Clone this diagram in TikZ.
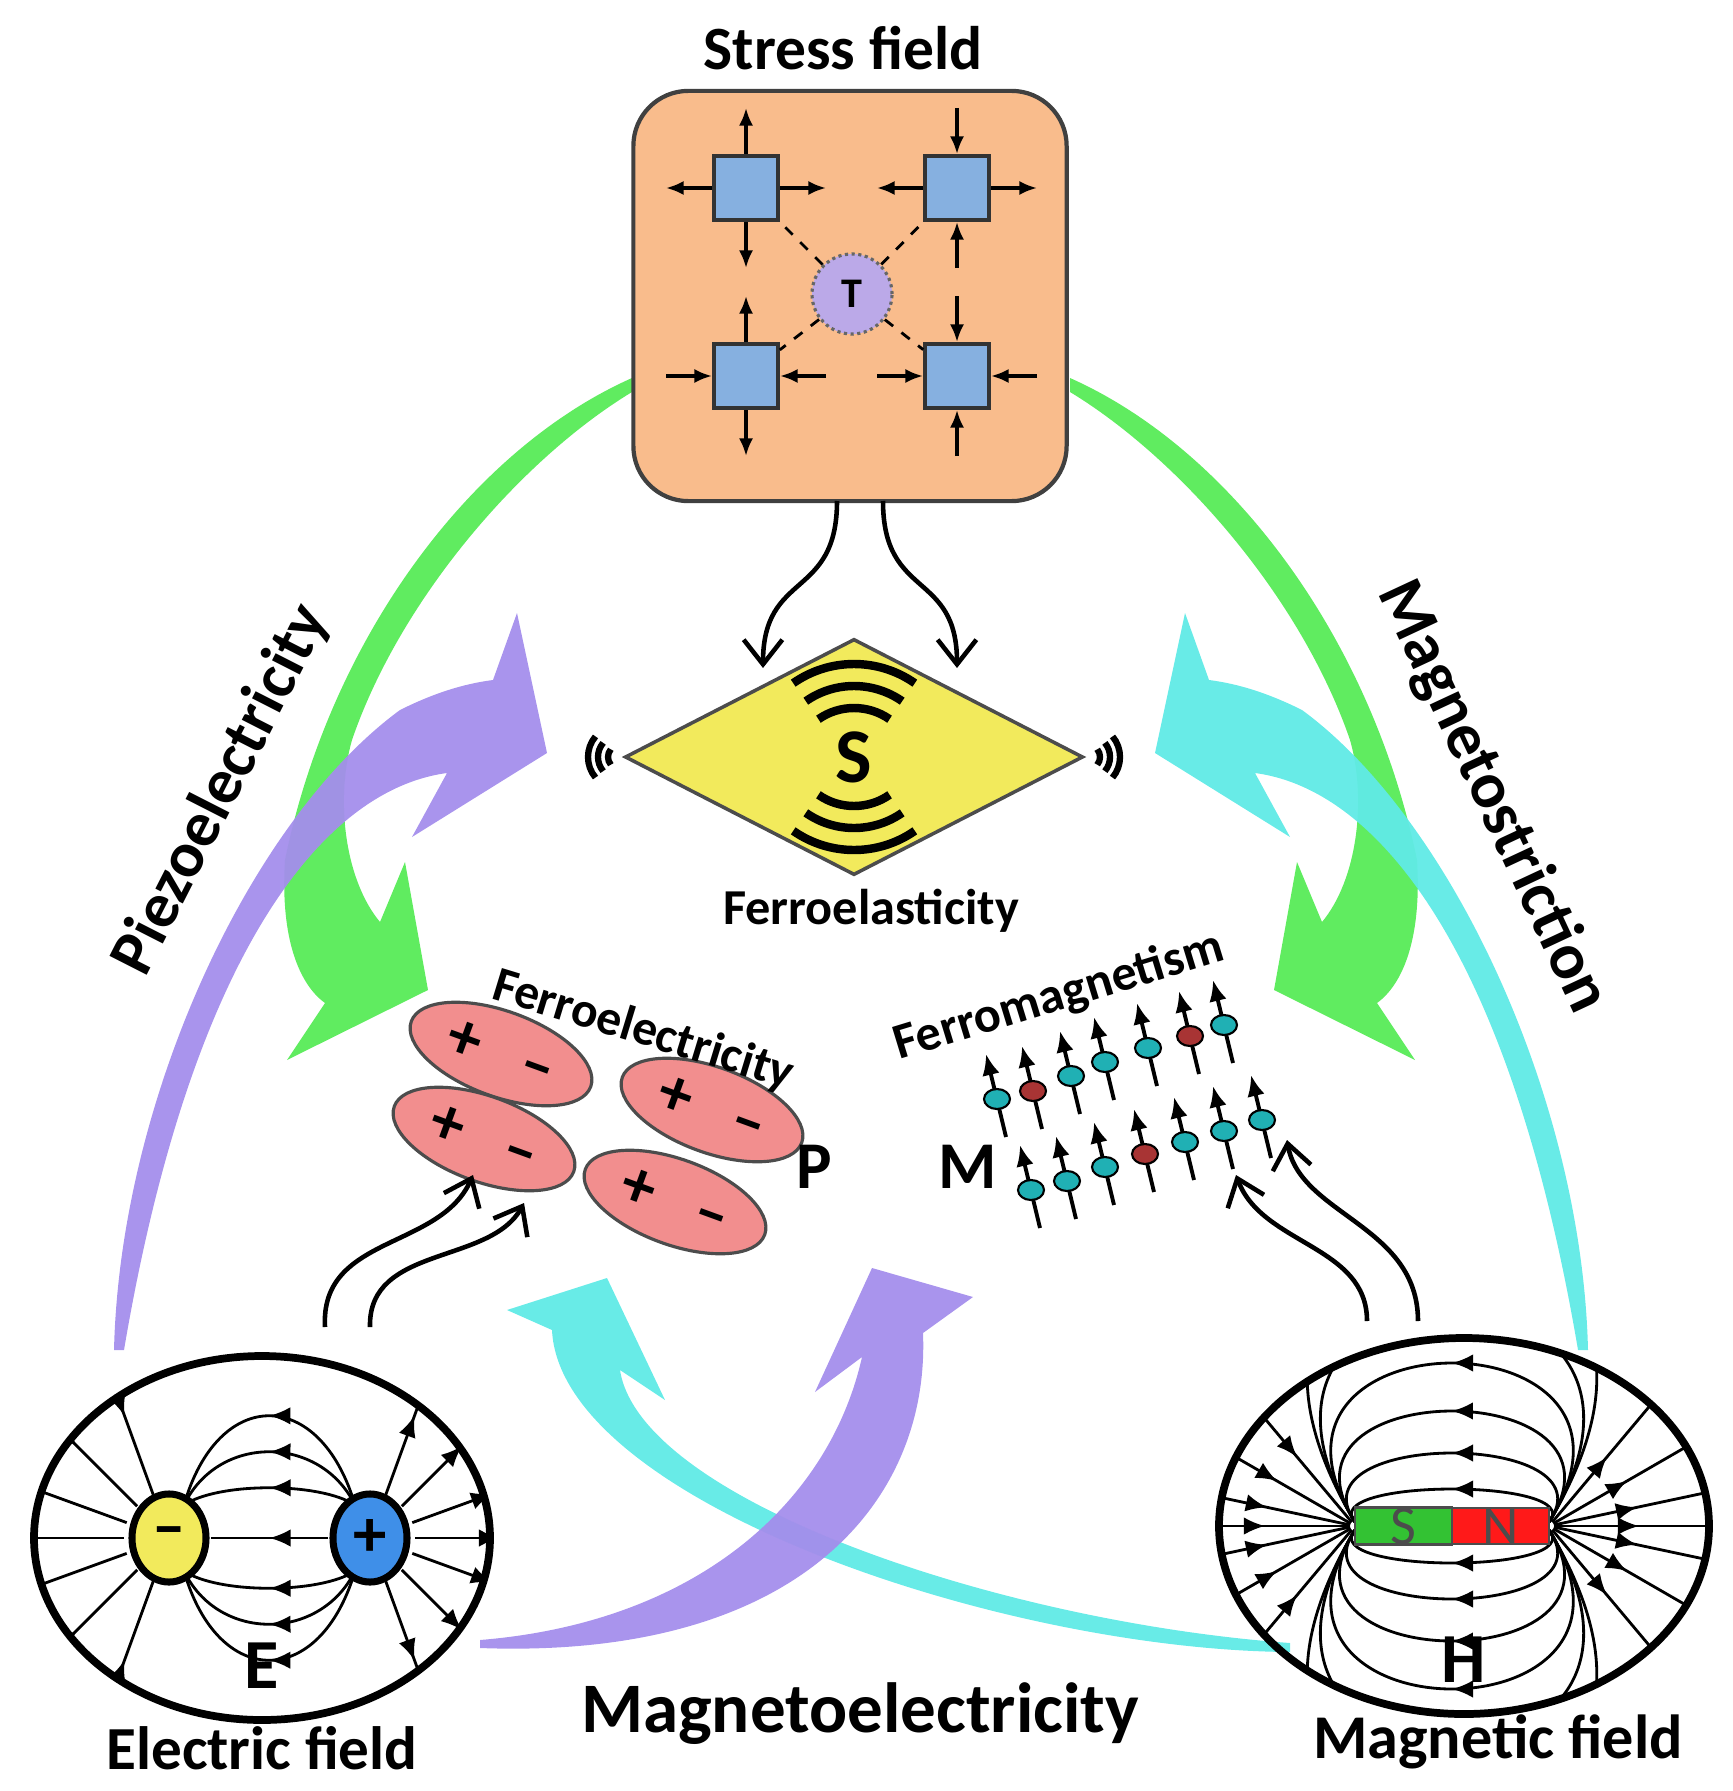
\documentclass[tikz,border=0pt]{standalone}
\usepackage{fontspec}
\setmainfont{Carlito}
\usetikzlibrary{arrows.meta,shapes.geometric,decorations.markings}
\definecolor{boxor}{HTML}{F9BC8C}
\definecolor{sqblue}{HTML}{86B0E0}
\definecolor{grn}{HTML}{60EC60}
\definecolor{pur}{HTML}{A48EEC}
\definecolor{cya}{HTML}{60EAE6}
\definecolor{yel}{HTML}{F2EA5C}
\definecolor{pnk}{HTML}{F28E8E}
\definecolor{teal2}{HTML}{20B0B4}
\definecolor{red2}{HTML}{A83434}
\definecolor{tpur}{HTML}{BBA9E8}
\definecolor{posblue}{HTML}{3F8FE8}
\newcommand\stressarrows[4]{%
 \ifx o#3 \draw[sa] (#1+34,#2)--(#1+80,#2); \draw[sa] (#1-34,#2)--(#1-80,#2);
 \else \draw[sa] (#1+80,#2)--(#1+34,#2); \draw[sa] (#1-80,#2)--(#1-34,#2); \fi
 \ifx o#4 \draw[sa] (#1,#2+34)--(#1,#2+80); \draw[sa] (#1,#2-34)--(#1,#2-80);
 \else \draw[sa] (#1,#2+80)--(#1,#2+34); \draw[sa] (#1,#2-80)--(#1,#2-34); \fi}
\begin{document}
\begin{tikzpicture}[x=0.01cm,y=-0.01cm,
  big/.style={font=\bfseries\fontsize{19}{21}\selectfont},
  sa/.style={line width=0.9pt,-{Latex[length=5pt,width=4pt]}},
  sq/.style={draw=black!80,line width=1pt,fill=sqblue,minimum size=0.64cm,inner sep=0pt},
  ca/.style={line width=1.3pt,-{Straight Barb[length=7pt,width=11pt]}},
  fl/.style={line width=0.8pt,postaction={decorate},decoration={markings,mark=at position 0.5 with {\arrow{Latex[length=6pt,width=5pt]}}}},
  rl/.style={line width=0.8pt,postaction={decorate},decoration={markings,mark=at position 0.85cm with {\arrow{Latex[length=6pt,width=5pt]}}}},
  rli/.style={line width=0.8pt,postaction={decorate},decoration={markings,mark=at position 0.85cm with {\arrowreversed{Latex[length=6pt,width=5pt]}}}},
  pe/.style={ellipse,draw=black!70,line width=0.9pt,fill=pnk,minimum width=1.76cm,minimum height=0.74cm,rotate=-20,font=\bfseries\fontsize{19}{19}\selectfont},
  spinT/.pic={\draw[line width=1.1pt,-{Latex[length=6pt,width=5pt]}] (9,38) -- (-11,-45); \draw[fill=teal2,line width=0.6pt] (0,0) ellipse[x radius=13,y radius=10];},
  spinR/.pic={\draw[line width=1.1pt,-{Latex[length=6pt,width=5pt]}] (9,38) -- (-11,-45); \draw[fill=red2,line width=0.6pt] (0,0) ellipse[x radius=13,y radius=10];}]
\useasboundingbox (0,0) rectangle (1732,1791);

% ---------- big coloured arrows ----------
\fill[grn] (632,378) .. controls (470,450) and (330,640) .. (285,860) .. controls (280,940) and (300,985) .. (325,1003)
  -- (287,1060) -- (428,990) -- (405,862) -- (380,922) .. controls (345,880) and (335,800) .. (352,740)
  .. controls (400,600) and (520,460) .. (632,392) -- cycle;
\fill[grn] (1070,378) .. controls (1232,450) and (1372,640) .. (1417,860) .. controls (1422,940) and (1402,985) .. (1377,1003)
  -- (1415,1060) -- (1274,990) -- (1297,862) -- (1322,922) .. controls (1357,880) and (1367,800) .. (1350,740)
  .. controls (1302,600) and (1182,460) .. (1070,392) -- cycle;
\fill[pur,opacity=0.95] (114,1350) .. controls (120,1100) and (250,820) .. (400,710) .. controls (440,690) and (470,683) .. (493,680)
  -- (517,613) -- (547,753) -- (412,837) -- (447,773) .. controls (320,790) and (190,960) .. (124,1350) -- cycle;
\fill[cya,opacity=0.95] (1588,1350) .. controls (1582,1100) and (1452,820) .. (1302,710) .. controls (1262,690) and (1232,683) .. (1209,680)
  -- (1185,613) -- (1155,753) -- (1290,837) -- (1255,773) .. controls (1382,790) and (1512,960) .. (1578,1350) -- cycle;
\fill[cya,opacity=0.95] (1290,1652) .. controls (1000,1650) and (560,1500) .. (552,1330) -- (507,1310) -- (607,1278)
  -- (665,1400) -- (620,1370) .. controls (640,1500) and (1000,1622) .. (1290,1643) -- cycle;
\fill[pur,opacity=0.95] (480,1648) .. controls (800,1660) and (930,1500) .. (923,1333) -- (973,1297) -- (872,1268)
  -- (815,1392) -- (862,1357) .. controls (830,1500) and (700,1622) .. (480,1640) -- cycle;

% ---------- stress field ----------
\node[font=\bfseries\fontsize{17.5}{19}\selectfont] (stresslbl) at (843,48) {Stress field};
\node[draw=black!75,line width=1.2pt,fill=boxor,rounded corners=0.55cm,minimum width=4.33cm,minimum height=4.1cm] (box) at (850,296) {};
\node[circle,draw=black!60,densely dotted,line width=0.9pt,fill=tpur,minimum size=0.8cm,inner sep=0pt,font=\bfseries\fontsize{12}{12}\selectfont] (T) at (852,294) {T};
\node[sq] (s1) at (746,188) {};
\node[sq] (s2) at (957,188) {};
\node[sq] (s3) at (746,376) {};
\node[sq] (s4) at (957,376) {};
\foreach \s in {s1,s2,s3,s4} \draw[dashed,line width=0.8pt] (T) -- (\s);
\stressarrows{746}{188}{o}{o}
\stressarrows{957}{188}{o}{i}
\stressarrows{746}{376}{i}{o}
\stressarrows{957}{376}{i}{i}
\coordinate (b1) at (837,501); \coordinate (b2) at (883,501);
\coordinate (e1) at (763,668); \coordinate (e2) at (957,668);
\draw[ca] (b1) .. controls (837,600) and (763,570) .. (e1);
\draw[ca] (b2) .. controls (883,600) and (957,570) .. (e2);

% ---------- diamond ----------
\node[diamond,draw=black!70,line width=1pt,fill=yel,minimum width=4.58cm,minimum height=2.36cm,inner sep=0pt,aspect=1.94,font=\bfseries\fontsize{22}{22}\selectfont] (S) at (854,757) {S};
\foreach \r in {62,84,106} {
  \draw[line width=2.4pt] (854,770) ++(-55:\r) arc[start angle=-55,end angle=-125,radius=\r];
  \draw[line width=2.4pt] (854,744) ++(55:\r) arc[start angle=55,end angle=125,radius=\r];}
\foreach \r in {12,22,32} {
  \draw[line width=1.8pt] (620,757) ++(140:\r) arc[start angle=140,end angle=220,radius=\r];
  \draw[line width=1.8pt] (1088,757) ++(-40:\r) arc[start angle=-40,end angle=40,radius=\r];}
\node[font=\bfseries\fontsize{14.3}{15}\selectfont] (felas) at (871,911) {Ferroelasticity};

% ---------- ferroelectric ----------
\node[pe] (p1) at (501,1054) {+\hspace{0.45cm}--};
\node[pe] (p2) at (484,1139) {+\hspace{0.45cm}--};
\node[pe] (p3) at (712,1110) {+\hspace{0.45cm}--};
\node[pe] (p4) at (675,1202) {+\hspace{0.45cm}--};
\node[rotate=-17,font=\bfseries\fontsize{14.1}{15}\selectfont] (fel) at (643,1031) {Ferroelectricity};
\node[big] (P) at (814,1167) {P};

% ---------- ferromagnetic ----------
\node[rotate=17,font=\bfseries\fontsize{14.3}{15}\selectfont] (fmag) at (1059,997) {Ferromagnetism};
\foreach \x/\y in {997/1099,1071/1076,1105/1062,1148/1048,1224/1025,1031/1190,1067/1181,1105/1167,1185/1142,1224/1131,1262/1120}
  \pic at (\x,\y) {spinT};
\foreach \x/\y in {1033/1091,1190/1036,1145/1154}
  \pic at (\x,\y) {spinR};
\node[big] (M) at (968,1167) {M};

% ---------- curly arrows ----------
\coordinate (ea) at (325,1327); \coordinate (eb) at (370,1327);
\coordinate (ha) at (1367,1321); \coordinate (hb) at (1418,1321);
\draw[ca] (ea) .. controls (320,1235) and (440,1250) .. (473,1175);
\draw[ca] (eb) .. controls (368,1245) and (490,1265) .. (524,1203);
\draw[ca] (ha) .. controls (1367,1245) and (1262,1245) .. (1236,1175);
\draw[ca] (hb) .. controls (1418,1225) and (1300,1215) .. (1287,1140);

% ---------- electric field ----------
\begin{scope}
\clip (262,1538) ellipse[x radius=228,y radius=182];
\foreach \a in {110,135,160,180,200,225,250} \draw[rli] (169,1538) ++(\a:45) -- ++(\a:260);
\foreach \a in {70,45,20,0,-20,-45,-70} \draw[rl] (370,1538) ++(\a:45) -- ++(\a:260);
\end{scope}
\draw[fl] (328,1538) -- (211,1538);
\foreach \h in {35,65,95} {
  \draw[fl] (355,1505) .. controls (320,1538-1.6*\h) and (218,1538-1.6*\h) .. (184,1505);
  \draw[fl] (355,1571) .. controls (320,1538+1.6*\h) and (218,1538+1.6*\h) .. (184,1571);}
\draw[line width=2.2pt] (262,1538) ellipse[x radius=228,y radius=182];
\node[ellipse,draw,line width=2pt,fill=yel,minimum width=0.74cm,minimum height=0.88cm,inner sep=0pt,font=\bfseries\fontsize{19}{19}\selectfont] (neg) at (169,1538) {--};
\node[ellipse,draw,line width=2pt,fill=posblue,minimum width=0.74cm,minimum height=0.88cm,inner sep=0pt,font=\bfseries\fontsize{19}{19}\selectfont] (pos) at (370,1538) {+};
\node[font=\bfseries\fontsize{20}{21}\selectfont] (E) at (262,1666) {E};
\node[font=\bfseries\fontsize{17.4}{18}\selectfont] (elab) at (262,1748) {Electric field};

% ---------- magnetic field ----------
\begin{scope}
\clip (1464,1526) ellipse[x radius=245,y radius=188];
\foreach \b in {30,60,95,135,180,235} {
  \draw[fl] (1549,1522) .. controls (1560+0.9*\b,1526-1.6*\b) and (1344-0.9*\b,1526-1.6*\b) .. (1355,1522);
  \draw[fl] (1549,1530) .. controls (1560+0.9*\b,1526+1.6*\b) and (1344-0.9*\b,1526+1.6*\b) .. (1355,1530);}
\foreach \a in {-50,-30,-12,0,12,30,50} \draw[rl] (1549,1526) ++(\a:5) -- ++(\a:300);
\foreach \a in {130,150,168,180,192,210,230} \draw[rli] (1355,1526) ++(\a:5) -- ++(\a:300);
\end{scope}
\draw[line width=2.2pt] (1464,1526) ellipse[x radius=245,y radius=188];
\node[draw=black!70,line width=0.8pt,fill=green!70!black!80,minimum width=0.97cm,minimum height=0.34cm,inner sep=0pt,text=black!70,font=\fontsize{16}{16}\selectfont] (Sp) at (1403.5,1526) {S};
\node[draw=black!70,line width=0.8pt,fill=red!90,minimum width=0.97cm,minimum height=0.34cm,inner sep=0pt,text=black!70,font=\fontsize{16}{16}\selectfont] (Np) at (1500.5,1526) {N};
\node[font=\bfseries\fontsize{20}{21}\selectfont] (H) at (1464,1660) {H};
\node[font=\bfseries\fontsize{17.7}{18}\selectfont] (mlab) at (1498,1742) {Magnetic field};

% ---------- effect labels ----------
\node[rotate=63,font=\bfseries\fontsize{18.3}{19}\selectfont] (piezo) at (222,790) {Piezoelectricity};
\node[rotate=-65,font=\bfseries\fontsize{18.6}{19}\selectfont] (mstr) at (1492,797) {Magnetostriction};
\node[font=\bfseries\fontsize{20.2}{21}\selectfont] (me) at (860,1714) {Magnetoelectricity};
\end{tikzpicture}
\end{document}
